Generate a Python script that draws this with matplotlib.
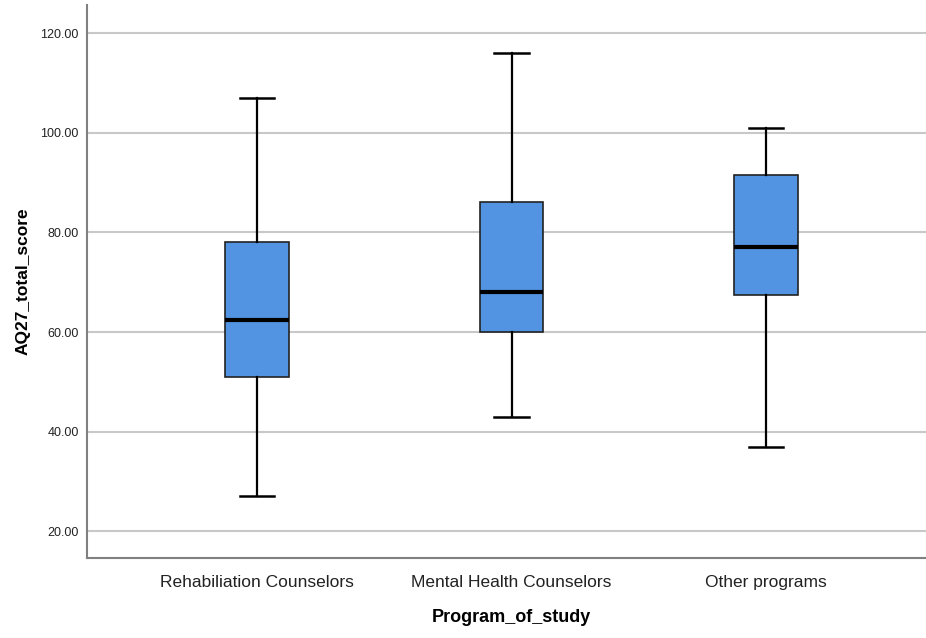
import matplotlib.pyplot as plt

plt.rcParams['font.family'] = ['Liberation Sans', 'DejaVu Sans']

# five-number summaries
programs = ['Rehabiliation Counselors', 'Mental Health Counselors', 'Other programs']
whisker_low = [27, 43, 37]
q1 = [51, 60, 67.5]
median = [62.5, 68, 77]
q3 = [78, 86, 91.5]
whisker_high = [107, 116, 101]
y_ticks = [20, 40, 60, 80, 100, 120]

stats = []
for i, name in enumerate(programs):
    stats.append({'label': name, 'whislo': whisker_low[i], 'q1': q1[i],
                  'med': median[i], 'q3': q3[i], 'whishi': whisker_high[i],
                  'fliers': []})

fig = plt.figure(figsize=(9.26, 6.38), dpi=100)
ax = fig.add_axes([0.094, 0.125, 0.917, 0.867])

ax.bxp(stats, positions=range(len(programs)), widths=0.25, patch_artist=True,
       showfliers=False,
       boxprops=dict(facecolor='#5294e2', edgecolor='#222222', linewidth=1.2),
       medianprops=dict(color='black', linewidth=3),
       whiskerprops=dict(color='black', linewidth=1.6),
       capprops=dict(color='black', linewidth=1.8),
       capwidths=0.135, zorder=3)

ax.set_xlim(-0.668, 2.668)
ax.set_ylim(14.6, 125.6)
ax.set_yticks(y_ticks)
ax.set_yticklabels([f'{v:.2f}' for v in y_ticks], fontsize=9, color='#222222')
ax.set_xticks(range(len(programs)))
ax.set_xticklabels(programs, fontsize=12.5, color='#222222')
ax.tick_params(length=0, pad=6)
ax.tick_params(axis='x', pad=12)

ax.yaxis.grid(True, color='#c8c8c8', linewidth=1.5, zorder=0)
ax.set_axisbelow(True)
for s in ['top', 'right']:
    ax.spines[s].set_visible(False)
for s in ['left', 'bottom']:
    ax.spines[s].set_color('#808080')
    ax.spines[s].set_linewidth(1.5)

ax.set_xlabel('Program_of_study', fontsize=13, fontweight='bold', labelpad=14)
ax.set_ylabel('AQ27_total_score', fontsize=12.5, fontweight='bold', labelpad=7)

fig.savefig('out.png', dpi=100)
